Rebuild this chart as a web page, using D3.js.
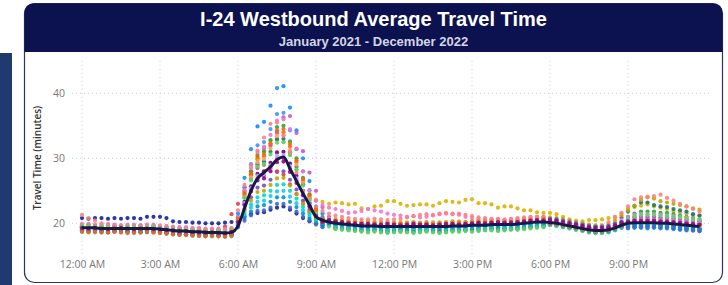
<!DOCTYPE html>
<html>
<head>
<meta charset="utf-8">
<script src="https://cdn.jsdelivr.net/npm/d3@7"></script>
<style>
  html, body { margin: 0; padding: 0; background: #fff; }
  svg { display: block; }
  .axis text { font-family: "Open Sans", "Segoe UI", sans-serif; font-size: 10.5px; fill: #777; }
</style>
</head>
<body>
<svg id="chart" width="728" height="285"></svg>
<script>
// time of day in minutes, one reading every 15 minutes
const SLOT_MIN = 15
const xTickValues = [0, 180, 360, 540, 720, 900, 1080, 1260]
const xTickLabels = ["12:00 AM", "3:00 AM", "6:00 AM", "9:00 AM", "12:00 PM", "3:00 PM", "6:00 PM", "9:00 PM"]
const yTickValues = [20, 30, 40]

const months = ["Jan 2021", "Feb 2021", "Mar 2021", "Apr 2021", "May 2021", "Jun 2021",
  "Jul 2021", "Aug 2021", "Sep 2021", "Oct 2021", "Nov 2021", "Dec 2021",
  "Jan 2022", "Feb 2022", "Mar 2022", "Apr 2022", "May 2022", "Jun 2022",
  "Jul 2022", "Aug 2022", "Sep 2022", "Oct 2022", "Nov 2022", "Dec 2022"]

const monthColors = ["#118DFF", "#12239E", "#E66C37", "#6B007B", "#E044A7", "#744EC2",
  "#D9B300", "#D64550", "#197278", "#1AAB40", "#15C6F4", "#4092FF",
  "#FFA058", "#BE5DC9", "#F472D0", "#B5A1FF", "#C4A200", "#FF8080",
  "#00DBBC", "#5BD667", "#0091D5", "#4668C5", "#FF6300", "#99008A"]

// average travel time (minutes) over all months
const avgTravel = [
  19.3,19.3,19.3,19.2,19.2,19.2,19.2,19.2,19.2,19.2,19.2,19.2,
  19.1,19.0,18.9,18.8,18.8,18.7,18.7,18.6,18.6,18.6,18.5,18.6,
  19.6,22.3,25.0,26.9,27.8,28.7,29.8,30.2,28.4,26.5,24.6,22.8,21.0,20.5,
  20.2,20.0,19.9,19.8,19.7,19.6,19.6,19.6,19.5,19.5,19.5,19.5,19.5,19.5,19.5,19.5,19.5,
  19.5,19.5,19.6,19.6,19.6,19.7,19.7,19.7,19.8,19.8,19.8,19.8,19.9,20.0,20.1,20.2,20.2,
  20.1,20.0,19.8,19.6,19.4,19.2,19.0,18.9,18.9,19.0,19.3,19.7,
  20.0,20.1,20.1,20.1,20.1,20.0,20.0,19.9,19.8,19.7,19.6,19.5
]

// monthly averages by time of day (minutes)
const jan21 = [
  18.9,18.8,18.9,18.8,18.9,18.8,18.8,18.7,18.8,18.8,18.9,18.8,18.7,18.6,18.5,18.4,18.4,18.3,18.3,18.3,18.2,18.2,18.2,18.3,
  21.5,27.0,31.4,34.9,35.6,38.1,40.8,41.1,37.8,34.3,30.0,26.5,23.5,21.5,
  20.5,19.6,19.5,19.4,19.3,19.2,19.2,19.2,19.1,19.1,19.1,19.0,19.1,19.1,19.1,19.0,19.1,19.1,19.1,19.2,19.2,19.1,19.3,19.3,19.2,19.4,19.4,19.3,19.4,19.5,19.6,19.7,19.8,19.8,
  19.8,19.7,19.5,19.3,19.1,18.9,18.7,18.6,18.6,18.7,19.0,19.3,
  19.2,19.3,19.3,19.2,19.3,19.2,19.2,19.1,19.0,18.9,18.9,18.8
]
const feb21 = [
  20.8,20.7,20.8,20.8,20.7,20.8,20.7,20.8,20.8,20.7,21.0,21.0,21.0,20.8,20.3,20.2,20.2,20.1,20.1,20.0,20.0,20.0,20.1,20.2,
  20.6,21.0,21.4,21.6,21.7,22.1,22.4,22.6,22.1,21.5,20.8,20.3,20.0,19.8,
  19.9,19.8,19.7,19.7,19.6,19.5,19.5,19.6,19.4,19.5,19.4,19.5,19.5,19.4,19.5,19.5,19.4,19.5,19.4,19.6,19.5,19.6,19.6,19.7,19.7,19.8,19.7,19.8,19.8,19.9,20.0,20.0,20.1,20.2,
  20.4,20.3,20.1,19.9,19.7,19.5,19.3,19.2,19.2,19.3,19.6,19.9,
  19.7,19.8,19.8,19.8,19.8,19.7,19.7,19.6,19.5,19.4,19.3,19.2
]
const mar21 = [
  18.8,18.8,18.9,18.7,18.7,18.8,18.7,18.7,18.6,18.7,18.7,18.6,18.6,18.5,18.4,18.3,18.3,18.2,18.2,18.1,18.1,18.1,18.0,18.2,
  20.7,24.4,27.4,29.8,30.3,31.9,33.9,34.0,31.8,29.4,26.5,24.1,22.0,20.7,
  20.0,19.3,19.2,19.1,19.0,18.9,18.9,18.9,18.8,18.8,18.8,18.7,18.8,18.8,18.9,18.8,18.8,18.8,18.8,18.9,18.9,18.9,19.0,19.0,19.0,19.1,19.1,19.1,19.1,19.2,19.3,19.4,19.5,19.5,
  19.9,19.8,19.6,19.4,19.2,19.0,18.8,18.7,18.7,18.8,19.1,19.5,
  20.2,20.3,20.3,20.3,20.3,20.2,20.2,20.1,20.0,19.9,19.8,19.7
]
const apr21 = [
  19.3,19.2,19.3,19.2,19.3,19.2,19.1,19.2,19.2,19.3,19.2,19.1,19.1,19.0,18.9,18.9,18.8,18.7,18.8,18.6,18.7,18.6,18.6,18.7,
  20.3,23.3,25.7,27.6,28.0,29.3,30.9,31.0,29.2,27.3,25.0,23.1,21.4,20.3,
  20.3,20.1,20.0,19.9,19.8,19.8,19.7,19.6,19.6,19.7,19.6,19.5,19.6,19.7,19.6,19.6,19.5,19.6,19.7,19.7,19.8,19.7,19.8,19.9,19.8,19.9,19.9,20.0,19.9,20.0,20.1,20.2,20.3,20.4,
  20.5,20.4,20.2,20.0,19.8,19.6,19.4,19.3,19.3,19.4,19.7,20.2,
  20.5,20.6,20.6,20.6,20.6,20.5,20.5,20.4,20.3,20.2,20.1,20.0
]
const may21 = [
  19.5,19.5,19.6,19.4,19.4,19.5,19.4,19.4,19.3,19.4,19.4,19.5,19.3,19.2,19.1,19.0,19.0,18.9,18.9,18.8,18.8,18.9,18.7,18.8,
  20.2,23.0,25.2,26.9,27.3,28.5,29.9,30.0,28.4,26.6,24.5,22.7,21.2,20.2,
  20.1,19.9,19.8,19.7,19.6,19.5,19.4,19.5,19.4,19.3,19.4,19.4,19.5,19.4,19.3,19.4,19.4,19.5,19.4,19.5,19.4,19.5,19.6,19.6,19.5,19.7,19.7,19.6,19.7,19.8,19.9,20.0,20.1,20.0,
  20.1,20.0,19.8,19.6,19.4,19.2,19.0,18.9,18.9,19.0,19.3,19.7,
  20.3,20.4,20.4,20.4,20.4,20.3,20.3,20.2,20.1,20.0,19.9,19.8
]
const jun21 = [
  19.1,19.1,19.1,19.0,19.0,19.0,19.1,19.0,19.0,19.0,19.1,19.0,18.9,18.8,18.7,18.6,18.6,18.5,18.5,18.4,18.4,18.4,18.3,18.4,
  20.0,22.2,24.0,25.5,25.8,26.7,27.9,28.0,26.7,25.2,23.5,22.1,20.8,20.0,
  19.7,19.4,19.3,19.2,19.1,19.0,19.1,19.0,18.9,18.8,18.9,19.0,18.9,18.8,18.9,19.0,18.9,18.8,18.9,19.0,19.1,19.0,19.1,19.2,19.1,19.2,19.3,19.2,19.2,19.3,19.4,19.5,19.6,19.7,
  19.9,19.8,19.6,19.4,19.2,19.0,18.8,18.7,18.7,18.8,19.1,19.5,
  19.6,19.7,19.7,19.7,19.7,19.6,19.6,19.5,19.4,19.3,19.2,19.1
]
const jul21 = [
  19.6,19.6,19.5,19.5,19.6,19.4,19.5,19.5,19.6,19.5,19.5,19.4,19.4,19.3,19.2,19.1,19.1,19.0,19.0,18.9,18.9,18.9,18.8,19.0,
  20.8,25.0,28.0,30.0,31.2,32.7,33.0,32.5,30.5,28.2,26.0,24.5,23.6,23.3,
  23.0,23.2,23.1,22.9,23.0,22.3,22.2,22.6,22.7,23.4,23.4,23.0,22.7,22.8,22.9,22.9,22.7,23.1,23.4,23.3,23.2,23.6,23.7,23.1,23.1,22.9,22.4,22.6,22.6,22.3,22.0,22.0,21.7,21.6,
  21.6,21.4,21.0,20.6,20.4,20.3,20.5,20.5,20.6,20.8,20.9,21.5,
  22.2,22.5,22.7,22.9,22.6,22.4,22.2,21.9,21.7,21.5,21.3,21.2
]
const aug21 = [
  19.4,19.3,19.4,19.3,19.3,19.4,19.3,19.2,19.3,19.3,19.4,19.3,19.2,19.1,19.0,18.9,18.9,18.8,18.8,18.7,18.7,18.8,19.5,21.4,
  23.0,25.5,27.5,28.5,29.0,28.8,28.0,27.5,26.0,24.5,23.0,21.8,20.8,20.3,
  20.4,20.2,20.1,20.0,19.9,19.8,19.9,19.8,19.7,19.8,19.7,19.6,19.7,19.8,19.7,19.7,19.6,19.7,19.8,19.8,19.9,19.8,19.9,19.9,20.0,20.0,20.1,20.0,20.0,20.1,20.2,20.3,20.4,20.5,
  20.3,20.2,20.0,19.8,19.6,19.4,19.2,19.1,19.1,19.2,19.5,20.0,
  20.8,21.0,21.0,21.0,21.0,20.9,20.9,20.8,20.7,20.6,20.5,20.3
]
const sep21 = [
  19.2,19.2,19.2,19.1,19.1,19.2,19.1,19.1,19.1,19.0,19.1,19.1,19.0,18.9,18.8,18.7,18.7,18.6,18.6,18.5,18.5,18.5,18.4,18.5,
  20.5,24.0,26.8,29.1,29.5,31.0,32.9,33.0,30.9,28.7,26.0,23.8,21.8,20.5,
  20.1,19.9,19.8,19.6,19.6,19.5,19.5,19.4,19.4,19.5,19.4,19.3,19.4,19.4,19.5,19.4,19.3,19.4,19.5,19.5,19.4,19.5,19.6,19.7,19.6,19.7,19.8,19.7,19.7,19.8,19.9,20.0,20.1,20.2,
  20.4,20.3,20.1,19.9,19.7,19.5,19.3,19.2,19.2,19.4,19.9,20.9,
  21.8,22.7,23.2,23.2,22.8,22.6,22.5,22.2,22.0,21.8,21.4,21.2
]
const oct21 = [
  19.7,19.8,19.6,19.6,19.7,19.6,19.6,19.5,19.6,19.7,19.6,19.6,19.4,19.4,19.3,19.2,19.2,19.1,19.1,19.0,19.0,19.0,18.9,19.1,
  20.8,24.8,28.0,30.5,31.0,32.8,34.8,35.0,32.6,30.0,27.0,24.4,22.2,20.8,
  19.8,19.2,19.1,19.0,18.9,18.8,18.7,18.8,18.7,18.6,18.7,18.8,18.7,18.6,18.7,18.8,18.7,18.6,18.7,18.8,18.8,18.9,18.8,18.9,19.0,19.0,18.9,19.0,19.1,19.1,19.2,19.3,19.4,19.5,
  19.8,19.7,19.5,19.3,19.1,18.9,18.7,18.6,18.6,18.7,19.2,20.0,
  21.0,21.5,21.8,21.8,21.8,21.6,21.6,21.4,21.2,21.0,20.8,20.6
]
const nov21 = [
  18.7,18.7,18.6,18.6,18.6,18.7,18.6,18.6,18.5,18.6,18.6,18.6,18.5,18.4,18.3,18.2,18.2,18.1,18.1,18.0,18.0,18.0,17.9,18.0,
  19.7,21.2,22.4,23.3,23.5,24.2,24.9,25.0,24.1,23.1,22.0,21.0,20.2,19.7,
  19.9,19.7,19.6,19.5,19.4,19.3,19.2,19.3,19.2,19.1,19.2,19.2,19.3,19.2,19.1,19.2,19.2,19.3,19.2,19.3,19.2,19.3,19.4,19.4,19.3,19.5,19.5,19.4,19.5,19.6,19.7,19.8,19.9,19.8,
  19.7,19.6,19.4,19.2,19.0,18.8,18.6,18.5,18.5,18.6,18.9,19.3,
  19.3,19.4,19.4,19.4,19.4,19.3,19.3,19.2,19.1,19.0,18.9,18.8
]
const dec21 = [
  19.0,19.0,19.0,18.9,18.9,18.9,19.0,18.9,18.9,18.9,18.9,18.9,18.8,18.7,18.6,18.5,18.5,18.4,18.4,18.3,18.3,18.3,18.2,18.3,
  21.0,25.5,29.1,32.0,32.5,34.5,36.8,37.0,34.3,31.4,28.0,25.1,22.6,21.0,
  20.6,20.4,20.3,20.2,20.1,20.1,20.0,19.9,19.9,20.0,20.0,19.9,19.8,19.9,20.0,19.9,19.9,20.0,19.9,20.0,20.1,20.0,20.1,20.1,20.2,20.2,20.1,20.2,20.3,20.3,20.4,20.5,20.6,20.7,
  20.3,20.2,20.0,19.8,19.6,19.4,19.2,19.1,19.1,19.2,19.5,19.9,
  19.4,19.5,19.5,19.5,19.5,19.4,19.4,19.3,19.2,19.1,19.0,18.9
]
const jan22 = [
  19.4,19.3,19.2,19.3,19.3,19.2,19.1,19.2,19.1,19.2,19.3,19.2,19.1,19.0,18.9,18.8,18.7,18.7,18.6,18.6,18.5,18.6,18.5,18.7,
  20.6,24.2,27.1,29.4,29.9,31.5,33.4,33.5,31.3,29.0,26.3,23.9,21.9,20.6,
  20.8,20.6,20.5,20.4,20.3,20.2,20.1,20.2,20.1,20.0,20.1,20.2,20.1,20.1,20.0,20.1,20.2,20.1,20.1,20.2,20.3,20.2,20.3,20.3,20.4,20.4,20.3,20.4,20.5,20.5,20.6,20.7,20.8,20.8,
  20.4,20.3,20.1,19.9,19.7,19.5,19.3,19.2,19.2,19.3,19.6,20.1,
  20.6,20.7,20.7,20.7,20.7,20.6,20.6,20.5,20.4,20.3,20.2,20.1
]
const feb22 = [
  19.4,19.4,19.4,19.3,19.3,19.3,19.4,19.3,19.3,19.2,19.3,19.3,19.2,19.1,19.0,18.9,18.9,18.8,18.8,18.7,18.7,18.7,18.6,18.7,
  20.3,22.9,25.3,28.8,31.6,32.1,34.1,36.3,36.5,33.9,31.1,27.8,25.0,22.5,
  21.0,20.2,20.1,20.0,19.9,19.7,19.8,19.7,19.7,19.6,19.7,19.8,19.7,19.6,19.7,19.8,19.7,19.7,19.6,19.8,19.7,19.8,19.9,19.8,19.9,20.0,20.0,19.9,20.0,20.1,20.2,20.3,20.4,20.3,
  20.1,20.0,19.8,19.6,19.4,19.2,19.0,18.9,18.9,19.0,19.4,19.9,
  20.6,20.9,20.9,20.9,20.9,20.8,20.8,20.7,20.6,20.5,20.4,20.3
]
const mar22 = [
  19.9,19.9,19.8,19.8,19.9,19.8,19.7,19.8,19.8,19.7,19.8,19.8,19.7,19.6,19.5,19.4,19.4,19.3,19.3,19.2,19.2,19.2,19.1,19.3,
  20.9,25.1,28.5,31.2,31.8,33.6,35.8,36.0,34.5,31.5,28.0,25.0,23.5,22.8,
  22.4,22.2,21.9,21.6,21.7,21.9,22.2,22.0,21.8,21.5,21.3,21.2,21.0,21.1,20.9,21.0,21.2,21.4,21.5,21.5,21.3,21.0,20.8,20.7,20.6,20.6,20.7,20.5,20.6,20.7,20.8,20.9,21.0,20.9,
  20.6,20.5,20.3,20.1,19.9,19.7,19.5,19.4,19.4,19.5,19.9,20.5,
  21.0,21.3,21.4,21.4,21.4,21.3,21.2,21.1,21.0,20.9,20.7,20.6
]
const apr22 = [
  19.2,19.1,19.2,19.1,19.0,19.1,19.2,19.1,19.0,19.1,19.1,19.0,19.0,18.9,18.8,18.7,18.6,18.6,18.5,18.5,18.5,18.4,18.4,18.6,
  20.3,23.1,25.4,27.3,27.6,28.9,30.4,30.5,28.8,26.9,24.8,22.9,21.3,20.3,
  20.7,20.5,20.4,20.3,20.2,20.1,20.0,20.1,20.0,20.1,20.0,19.9,20.0,20.1,20.0,19.9,20.0,20.1,20.0,20.1,20.2,20.1,20.2,20.3,20.2,20.3,20.4,20.3,20.3,20.4,20.5,20.6,20.7,20.6,
  20.6,20.5,20.3,20.1,19.9,19.7,19.5,19.4,19.4,19.5,19.8,20.2,
  20.4,20.5,20.5,20.5,20.5,20.4,20.4,20.3,20.2,20.1,20.0,19.9
]
const may22 = [
  19.5,19.6,19.5,19.4,19.5,19.4,19.3,19.4,19.4,19.5,19.4,19.3,19.3,19.2,19.1,19.0,18.9,18.9,18.8,18.8,18.8,18.7,18.7,18.9,
  19.9,21.9,23.5,24.8,25.0,25.9,26.9,27.0,25.8,24.5,23.0,21.7,20.6,20.1,
  20.5,20.6,20.5,20.3,20.3,20.2,20.3,20.2,20.1,20.2,20.1,20.0,20.1,20.2,20.1,20.2,20.0,20.1,20.2,20.3,20.2,20.2,20.3,20.4,20.3,20.4,20.5,20.4,20.4,20.5,20.6,20.7,20.9,21.0,
  20.9,20.8,20.6,20.4,20.2,20.0,19.8,19.7,19.7,19.9,20.4,21.2,
  22.0,22.7,23.6,24.0,23.8,23.4,23.2,23.0,22.8,22.6,22.3,22.1
]
const jun22 = [
  21.3,20.8,20.4,20.0,19.7,19.6,19.7,19.6,19.6,19.5,19.6,19.6,19.5,19.4,19.3,19.2,19.2,19.1,19.1,19.0,19.0,19.0,18.9,19.1,
  22.0,25.9,28.9,30.9,33.2,35.3,35.5,33.5,30.9,27.8,25.0,23.5,22.5,21.9,
  21.5,21.2,21.0,20.8,20.7,20.6,20.6,20.7,20.6,20.5,20.6,20.7,20.9,21.1,21.3,21.4,21.3,21.5,21.6,21.4,21.5,21.3,21.1,20.9,20.8,20.7,20.6,20.6,20.7,20.8,20.9,21.0,21.0,20.9,
  20.5,20.4,20.2,20.0,19.8,19.6,19.4,19.3,19.5,20.2,21.0,21.6,
  22.6,23.7,24.0,24.1,24.2,24.4,23.9,23.5,23.0,22.6,22.2,21.8
]
const jul22 = [
  18.9,19.0,19.0,18.9,18.8,18.9,19.0,18.9,18.8,18.9,18.9,19.0,18.8,18.7,18.6,18.5,18.5,18.4,18.3,18.3,18.4,18.3,18.2,18.3,
  19.8,21.5,22.9,24.0,24.3,25.0,25.9,26.0,25.0,23.8,22.5,21.4,20.4,19.8,
  20.0,19.8,19.7,19.6,19.5,19.4,19.3,19.4,19.3,19.2,19.3,19.4,19.3,19.2,19.3,19.3,19.4,19.3,19.2,19.4,19.5,19.4,19.5,19.5,19.6,19.6,19.5,19.6,19.7,19.7,19.8,19.9,20.0,19.9,
  19.8,19.7,19.5,19.3,19.1,18.9,18.7,18.6,18.6,18.7,19.0,19.4,
  19.8,19.9,19.9,19.9,19.9,19.8,19.8,19.7,19.6,19.5,19.4,19.3
]
const aug22 = [
  19.6,19.5,19.4,19.5,19.4,19.3,19.4,19.5,19.4,19.3,19.4,19.5,19.3,19.2,19.1,19.0,19.0,18.9,18.8,18.8,18.7,18.8,18.7,18.9,
  20.5,23.9,26.6,28.7,29.1,30.6,32.4,32.5,30.5,28.3,25.8,23.6,21.7,20.5,
  19.5,19.1,19.0,18.9,18.8,18.7,18.6,18.7,18.6,18.5,18.6,18.7,18.6,18.5,18.6,18.7,18.6,18.5,18.6,18.7,18.7,18.8,18.7,18.8,18.9,18.9,18.8,18.9,19.0,19.0,19.1,19.2,19.3,19.4,
  19.7,19.6,19.4,19.2,19.0,18.8,18.6,18.5,18.5,18.7,19.2,19.9,
  20.7,21.1,21.3,21.3,21.3,21.2,21.1,21.0,20.9,20.8,20.6,20.5
]
const sep22 = [
  18.8,18.7,18.8,18.7,18.6,18.7,18.8,18.7,18.7,18.6,18.7,18.8,18.6,18.5,18.4,18.3,18.3,18.2,18.1,18.1,18.2,18.1,18.1,18.2,
  19.6,20.8,21.8,22.6,22.8,23.3,24.0,24.0,23.3,22.5,21.5,20.7,20.0,19.6,
  20.0,19.9,19.8,19.7,19.6,19.5,19.4,19.5,19.4,19.4,19.5,19.4,19.3,19.4,19.4,19.5,19.4,19.3,19.4,19.5,19.5,19.6,19.5,19.6,19.7,19.7,19.6,19.7,19.8,19.8,19.9,20.0,20.1,20.0,
  19.9,19.8,19.6,19.4,19.2,19.0,18.8,18.7,18.7,18.8,19.1,19.5,
  19.5,19.6,19.6,19.6,19.6,19.5,19.5,19.4,19.3,19.2,19.1,19.0
]
const oct22 = [
  18.9,18.8,18.9,18.8,18.7,18.8,18.9,18.8,18.7,18.8,18.8,18.9,18.7,18.6,18.5,18.4,18.3,18.3,18.2,18.2,18.2,18.1,18.1,18.3,
  19.4,20.4,21.2,21.9,22.0,22.4,23.0,23.0,22.4,21.8,21.0,20.4,19.8,19.4,
  20.1,20.1,20.0,19.9,19.8,19.7,19.6,19.7,19.6,19.5,19.6,19.7,19.6,19.5,19.6,19.7,19.6,19.6,19.5,19.7,19.8,19.7,19.8,19.8,19.9,19.9,19.8,19.9,20.0,20.0,20.1,20.2,20.3,20.4,
  20.7,20.6,20.4,20.2,20.0,19.8,19.6,19.5,19.5,19.6,19.9,20.2,
  19.3,19.4,19.4,19.4,19.4,19.3,19.3,19.2,19.1,19.0,18.9,18.8
]
const nov22 = [
  18.7,18.6,18.7,18.6,18.6,18.7,18.6,18.5,18.6,18.6,18.7,18.6,18.5,18.4,18.3,18.2,18.2,18.1,18.1,18.0,18.1,18.0,18.0,18.1,
  20.7,24.6,27.7,30.2,30.6,32.3,34.3,34.5,32.2,29.7,26.8,24.3,22.1,20.7,
  20.5,20.3,20.2,20.1,20.0,19.9,19.8,19.9,19.8,19.7,19.8,19.9,19.8,19.7,19.8,19.9,19.8,19.8,19.7,19.9,20.0,19.9,20.0,20.0,20.1,20.1,20.0,20.1,20.2,20.2,20.3,20.4,20.5,20.6,
  20.0,19.9,19.7,19.5,19.3,19.1,18.9,18.8,18.8,18.9,19.2,19.6,
  20.1,20.2,20.2,20.2,20.2,20.1,20.1,20.0,19.9,19.8,19.7,19.6
]
const dec22 = [
  19.3,19.2,19.3,19.2,19.1,19.2,19.3,19.2,19.1,19.2,19.2,19.1,19.1,19.0,18.9,18.8,18.8,18.7,18.6,18.6,18.6,18.5,18.5,18.7,
  20.2,22.8,24.9,26.6,26.9,28.0,29.4,29.5,27.9,26.2,24.3,22.6,21.1,20.2,
  20.5,20.3,20.2,20.0,20.0,19.9,19.9,19.8,19.8,19.9,19.8,19.7,19.8,19.9,19.8,19.8,19.7,19.8,19.9,19.9,19.8,19.9,20.0,20.1,20.0,20.1,20.2,20.1,20.1,20.2,20.3,20.4,20.5,20.4,
  20.5,20.4,20.2,20.0,19.8,19.6,19.4,19.3,19.3,19.4,19.7,20.1,
  20.3,20.4,20.4,20.4,20.4,20.3,20.3,20.2,20.1,20.0,19.9,19.8
]

const monthly = [jan21, feb21, mar21, apr21, may21, jun21, jul21, aug21, sep21, oct21, nov21, dec21,
  jan22, feb22, mar22, apr22, may22, jun22, jul22, aug22, sep22, oct22, nov22, dec22]

monthly.forEach((arr, i) => {
  if (arr.length !== avgTravel.length) throw new Error(`${months[i]} has ${arr.length} values`)
})

const W = 728
const H = 285
const svg = d3.select("#chart")

// page frame: side strip + card with header band
const CARD = { x: 24.5, y: 3.5, w: 698, h: 279, r: 10, headH: 48.5 }

function roundedTopPath(x, y, w, h, r) {
  return `M${x},${y + h} V${y + r} Q${x},${y} ${x + r},${y} H${x + w - r} Q${x + w},${y} ${x + w},${y + r} V${y + h} Z`
}

svg.append("rect")
  .attr("x", 0).attr("y", 53).attr("width", 12).attr("height", H - 53)
  .attr("fill", "#1f3a6f")

svg.append("rect")
  .attr("x", CARD.x).attr("y", CARD.y)
  .attr("width", CARD.w).attr("height", CARD.h)
  .attr("rx", CARD.r)
  .attr("fill", "#fff")
  .attr("stroke", "#2c3566")
  .attr("stroke-width", 1.2)

svg.append("path")
  .attr("d", roundedTopPath(CARD.x, CARD.y, CARD.w, CARD.headH, CARD.r))
  .attr("fill", "#0c1250")

const cx = CARD.x + CARD.w / 2
svg.append("text")
  .attr("x", cx).attr("y", 26)
  .attr("text-anchor", "middle")
  .attr("font-family", "'Liberation Sans', Arial, sans-serif")
  .attr("font-weight", "bold")
  .attr("font-size", 20)
  .attr("fill", "#fff")
  .text("I-24 Westbound Average Travel Time")

svg.append("text")
  .attr("x", cx).attr("y", 46)
  .attr("text-anchor", "middle")
  .attr("font-family", "'Liberation Sans', Arial, sans-serif")
  .attr("font-weight", "bold")
  .attr("font-size", 13)
  .attr("fill", "#d4d6e2")
  .text("January 2021 - December 2022")

// plot scales
const x = d3.scaleLinear().domain([0, (avgTravel.length - 1) * SLOT_MIN]).range([82, 699.5])
const y = d3.scaleLinear().domain([15, 45]).range([255.8, 60.8])

const grid = svg.append("g").attr("stroke", "#cfcfcf").attr("stroke-dasharray", "1,3")
grid.selectAll(".vg").data(xTickValues).join("line")
  .attr("x1", d => x(d)).attr("x2", d => x(d))
  .attr("y1", y(45)).attr("y2", y(15))
grid.selectAll(".hg").data(yTickValues).join("line")
  .attr("x1", 72).attr("x2", 709)
  .attr("y1", d => y(d)).attr("y2", d => y(d))

const xAxis = d3.axisBottom(x)
  .tickValues(xTickValues)
  .tickFormat((d, i) => xTickLabels[i])
  .tickSize(0)
  .tickPadding(0)
svg.append("g").attr("class", "axis")
  .attr("transform", "translate(0,258)")
  .call(xAxis)
  .call(g => g.select(".domain").remove())
  .selectAll("text").attr("dy", "0.71em").attr("y", 3)

const yAxis = d3.axisLeft(y)
  .tickValues(yTickValues)
  .tickSize(0)
  .tickPadding(0)
svg.append("g").attr("class", "axis")
  .attr("transform", "translate(65,0)")
  .call(yAxis)
  .call(g => g.select(".domain").remove())

svg.append("text")
  .attr("transform", `translate(41,158) rotate(-90)`)
  .attr("text-anchor", "middle")
  .attr("font-family", "'Open Sans', sans-serif")
  .attr("font-weight", 600)
  .attr("font-size", 10)
  .attr("fill", "#333")
  .text("Travel Time (minutes)")

// monthly points
const dots = svg.append("g")
monthly.forEach((vals, m) => {
  dots.append("g")
    .attr("fill", monthColors[m])
    .attr("fill-opacity", 0.9)
    .selectAll("circle")
    .data(vals)
    .join("circle")
    .attr("cx", (d, i) => x(i * SLOT_MIN))
    .attr("cy", d => y(d))
    .attr("r", 2.1)
})

// average line on top
const line = d3.line()
  .x((d, i) => x(i * SLOT_MIN))
  .y(d => y(d))
  .curve(d3.curveMonotoneX)

svg.append("path")
  .datum(avgTravel)
  .attr("d", line)
  .attr("fill", "none")
  .attr("stroke", "#1a1749")
  .attr("stroke-width", 3)
  .attr("stroke-linejoin", "round")
</script>
</body>
</html>
